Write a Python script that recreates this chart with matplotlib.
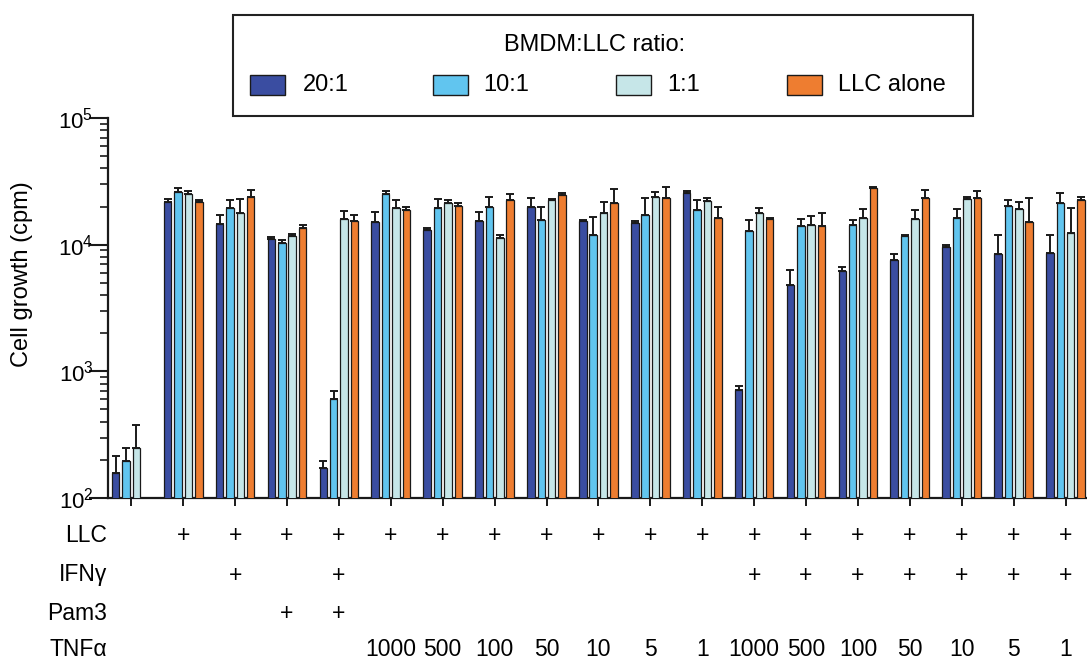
import numpy as np
import matplotlib
matplotlib.use("Agg")
import matplotlib.pyplot as plt
from matplotlib.patches import Rectangle
import matplotlib.transforms as mtransforms

plt.rcParams["font.family"] = ["Liberation Sans", "DejaVu Sans"]
plt.rcParams["mathtext.default"] = "regular"

# Series (BMDM:LLC ratio) and colours
series_labels = ["20:1", "10:1", "1:1", "LLC alone"]
series_colors = ["#3A4DA1", "#61C5EF", "#C6E6E8", "#EE7D30"]

# Mean cell growth (cpm) per condition, one list per series
ratio_20_1 = [157, 21800, 14460, 11000, 173, 15070, 13040, 15460, 19800, 15350,
              14900, 25500, 716, 4830, 6230, 7550, 9640, 8480, 8590]
ratio_10_1 = [196, 26200, 19500, 10350, 604, 25200, 19500, 19900, 15570, 11840,
              17150, 18870, 12800, 14100, 14300, 11620, 16300, 20300, 21200]
ratio_1_1 = [250, 25200, 17700, 11700, 15850, 19450, 21300, 11270, 22500, 17750,
             23900, 22100, 17750, 14300, 16300, 15920, 22900, 19000, 12360]
llc_alone = [np.nan, 21700, 23900, 13600, 15460, 18660, 20300, 22600, 24600, 21400,
             23200, 16200, 15920, 14030, 28100, 23200, 23200, 15160, 22500]

# Upper error (SEM) per condition
err_20_1 = [57, 1100, 2640, 530, 23, 2930, 390, 2540, 3700, 220,
            500, 850, 44, 1480, 430, 950, 360, 3360, 3360]
err_10_1 = [54, 1600, 3000, 510, 96, 1150, 3500, 4000, 4330, 4760,
            6350, 3830, 2770, 1820, 1500, 330, 2700, 2100, 4600]
err_1_1 = [127, 1300, 5200, 440, 2550, 2950, 1100, 570, 500, 3850,
           2300, 1100, 1700, 2600, 2700, 2850, 1000, 2600, 7090]
err_llc = [np.nan, 1000, 3100, 600, 1640, 1140, 900, 2360, 1000, 6100,
           5450, 3600, 330, 3770, 550, 3600, 3300, 8140, 1100]

# Treatment table below the axis
table_rows = ["LLC", "IFNγ", "Pam3", "TNFα"]
llc_row = ["", "+", "+", "+", "+", "+", "+", "+", "+", "+", "+", "+", "+", "+", "+", "+", "+", "+", "+"]
ifng_row = ["", "", "+", "", "+", "", "", "", "", "", "", "", "+", "+", "+", "+", "+", "+", "+"]
pam3_row = ["", "", "", "+", "+", "", "", "", "", "", "", "", "", "", "", "", "", "", ""]
tnfa_row = ["", "", "", "", "", "1000", "500", "100", "50", "10", "5", "1",
            "1000", "500", "100", "50", "10", "5", "1"]

means = [ratio_20_1, ratio_10_1, ratio_1_1, llc_alone]
errs = [err_20_1, err_10_1, err_1_1, err_llc]
n_groups = len(ratio_20_1)

W, H = 1087, 662
fig = plt.figure(figsize=(W / 100, H / 100), dpi=100)
ax = fig.add_axes([108 / W, 1 - 498 / H, 1 - 108 / W, (498 - 118) / H])

x = np.arange(n_groups)
pitch = 0.2
width = 0.145
for i, (m, e, c) in enumerate(zip(means, errs, series_colors)):
    m = np.asarray(m, dtype=float)
    e = np.asarray(e, dtype=float)
    ok = ~np.isnan(m)
    xs = x[ok] + (i - 1.5) * pitch
    ax.errorbar(xs, m[ok], yerr=[np.zeros(ok.sum()), e[ok]], fmt="none",
                ecolor="#1a1a1a", elinewidth=1.4, capsize=2.6, capthick=1.4, zorder=2)
    ax.bar(xs, m[ok], width=width, color=c, edgecolor="#1a1a1a",
           linewidth=0.9, zorder=3)

ax.set_yscale("log")
ax.set_ylim(100, 1e5)
ax.set_xlim(-0.449, 18.414)
ax.set_xticks(x)
ax.set_xticklabels([])
ax.tick_params(axis="x", direction="out", length=6, width=1.4, color="#1a1a1a")
ax.tick_params(axis="y", which="major", direction="out", length=14, width=1.5,
               labelsize=16, pad=-3.5, color="#1a1a1a")
ax.tick_params(axis="y", which="minor", direction="out", length=6, width=1.2,
               color="#1a1a1a")
for side in ("top", "right"):
    ax.spines[side].set_visible(False)
for side in ("left", "bottom"):
    ax.spines[side].set_linewidth(1.6)
    ax.spines[side].set_color("#1a1a1a")
fig.text(22 / W, 1 - 274 / H, "Cell growth (cpm)", rotation=90,
         ha="center", va="center", fontsize=17)

# Treatment table
trans = mtransforms.blended_transform_factory(ax.transData, fig.transFigure)
row_y = [535, 575, 613, 650]
for label, vals, py in zip(table_rows, [llc_row, ifng_row, pam3_row, tnfa_row], row_y):
    yf = 1 - py / H
    fig.text(107 / W, yf, label, ha="right", va="center", fontsize=16.5)
    for xi, v in zip(x, vals):
        if v:
            ax.text(xi, yf, v, transform=trans, ha="center", va="center",
                    fontsize=16.5, clip_on=False)

# Legend box
fig.patches.append(Rectangle((233 / W, 1 - 116 / H), (973 - 233) / W, (116 - 15) / H,
                             transform=fig.transFigure, fill=False,
                             edgecolor="#222222", linewidth=1.5))
fig.text(595 / W, 1 - 45 / H, "BMDM:LLC ratio:", ha="center", va="center", fontsize=17)
patch_x = [250, 433, 616, 787]
text_x = [303, 483, 667, 838]
for px, tx, lab, c in zip(patch_x, text_x, series_labels, series_colors):
    fig.patches.append(Rectangle((px / W, 1 - 95 / H), 35 / W, 20 / H,
                                 transform=fig.transFigure, facecolor=c,
                                 edgecolor="#1a1a1a", linewidth=1.0))
    fig.text(tx / W, 1 - 85 / H, lab, ha="left", va="center", fontsize=17)

fig.savefig("out.png", dpi=100)
